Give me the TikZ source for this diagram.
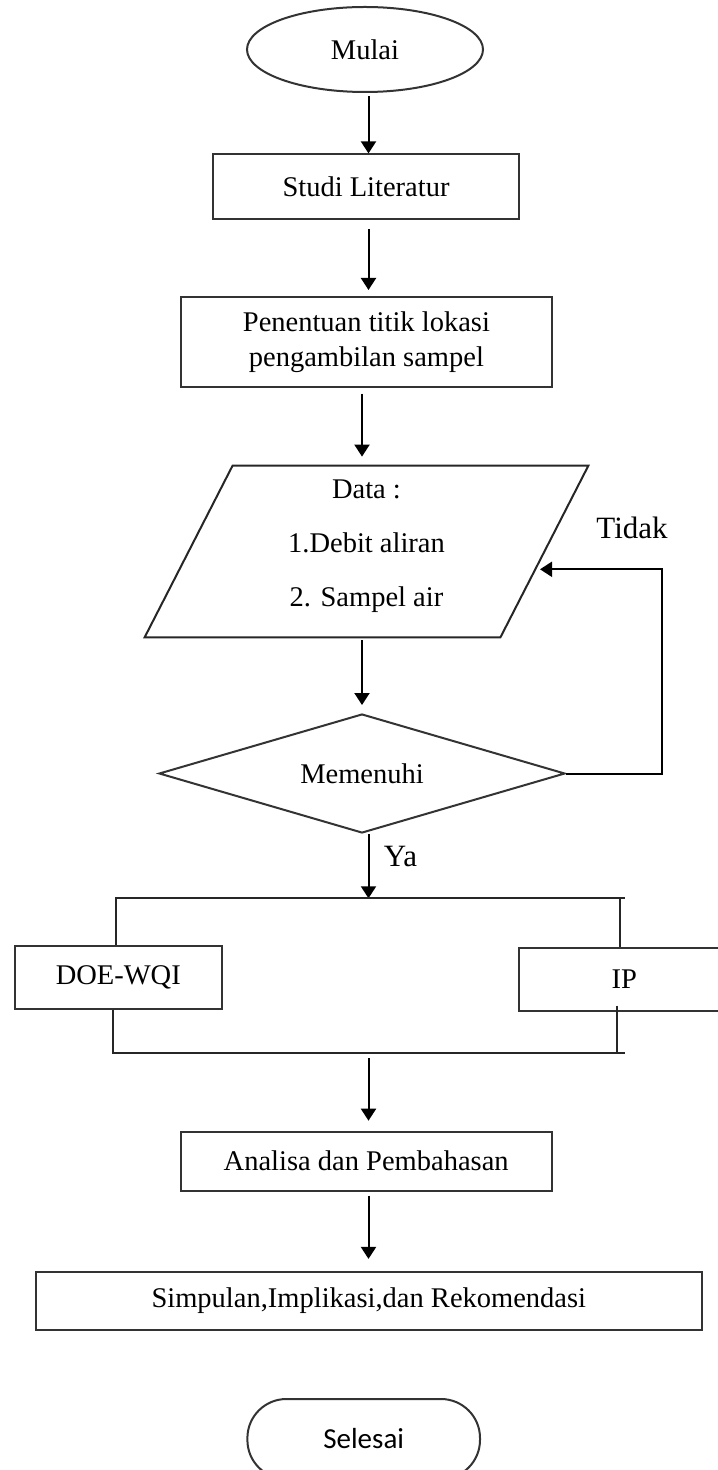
\documentclass[tikz,border=0pt]{standalone}
\usepackage{fontspec}
\setmainfont{Liberation Serif}
\newfontfamily\calibrifont{Carlito}
\usetikzlibrary{shapes.geometric,arrows.meta,calc}
\begin{document}
\begin{tikzpicture}[x=0.5pt,y=-0.5pt,
  box/.style={draw=black!80,line width=1pt,rectangle,inner sep=0pt,font=\fontsize{14.25}{17}\selectfont},
  arr/.style={draw=black,line width=1pt,-{Triangle[length=6pt,width=7.5pt]}},
  ln/.style={draw=black!85,line width=1pt},
  lbl/.style={font=\fontsize{15.5}{18}\selectfont,inner sep=0pt}]
\useasboundingbox (0,0) rectangle (717,1470);

% nodes
\node[ellipse,draw=black!80,line width=1pt,minimum width=118pt,minimum height=42.5pt,inner sep=0pt,font=\fontsize{14.25}{17}\selectfont] (mulai) at (365,49.5) {Mulai};
\node[box,minimum width=153pt,minimum height=32.3pt] (studi) at (366,186.7) {Studi Literatur};
\node[box,minimum width=185.7pt,minimum height=44.8pt,align=center,font=\fontsize{14.25}{17.5}\selectfont] (penentuan) at (366.4,341.8) {Penentuan titik lokasi\\pengambilan sampel};
\node[minimum width=221.5pt,minimum height=85.5pt,inner sep=0pt] (data) at (366.5,551.5) {};
\draw[ln] ($(data.north west)+(88,0)$) -- (data.north east) -- ($(data.south east)+(-88,0)$) -- (data.south west) -- cycle;
\node[align=center,font=\fontsize{14.25}{27}\selectfont,inner sep=0pt] (datatext) at (366.5,546) {Data :\\1.Debit aliran\\2. Sampel air};
\node[diamond,draw=black!80,line width=1pt,minimum width=203pt,minimum height=59.5pt,inner sep=0pt,aspect=3.4,font=\fontsize{14.25}{17}\selectfont] (cek) at (362,773.5) {Memenuhi};
\node[box,minimum width=103.3pt,minimum height=31.7pt] (doe) at (118.3,977.3) {DOE-WQI};
\node[box,minimum width=104.8pt,minimum height=31.2pt] (ip) at (624.2,979.5) {IP};
\node[box,minimum width=185.5pt,minimum height=29.5pt] (analisa) at (366.2,1161.2) {Analisa dan Pembahasan};
\node[box,minimum width=332.8pt,minimum height=29.2pt] (simpulan) at (368.8,1300.8) {Simpulan,Implikasi,dan Rekomendasi};
\node[draw=black!80,line width=1pt,rounded corners=19.5pt,minimum width=116.3pt,minimum height=40pt,inner sep=0pt,font=\calibrifont\fontsize{14.5}{17}\selectfont] (selesai) at (363.7,1439) {Selesai};

\node[lbl] (tidak) at (632,527.5) {Tidak};
\node[lbl] (ya) at (400.5,856) {Ya};

% helper coordinates
\coordinate (colA) at (368.5,0);
\coordinate (colB) at (362,0);
\coordinate (fbtop) at (662,569.3);
\coordinate (fbend) at (540,569.3);
\coordinate (sl) at (115,898.3);
\coordinate (sr) at (625,898.3);
\coordinate (dl) at (116,898.3);
\coordinate (ir) at (620,898.3);
\coordinate (ml) at (113.3,1053.3);
\coordinate (mr) at (625,1053.3);
\coordinate (mi) at (616.7,1053.3);

% connectors
\draw[arr] ($(mulai.south -| colA)+(0,3)$) -- (studi.north -| colA);
\draw[arr] ($(studi.south -| colA)+(0,9)$) -- ($(penentuan.north -| colA)+(0,-6)$);
\draw[arr] ($(penentuan.south -| colB)+(0,6)$) -- ($(data.north -| colB)+(0,-9)$);
\draw[arr] ($(data.south -| colB)+(0,3)$) -- ($(cek.north -| colB)+(0,-8)$);
\draw[arr] (cek.east) -- (cek.east -| fbtop) -- (fbtop) -- (fbend);
\draw[arr] (cek.south -| colA) -- (colA |- sl);
\draw[ln] (sl) -- (sr);
\draw[ln] (dl) -- (dl |- doe.north);
\draw[ln] (ir) -- (ir |- ip.north);
\draw[ln] (ml |- doe.south) -- (ml) -- (mr);
\draw[ln] ($(mi |- ip.south)+(0,-6)$) -- (mi);
\draw[arr] ($(colA |- ml)+(0,5)$) -- ($(analisa.north -| colA)+(0,-10)$);
\draw[arr] ($(analisa.south -| colA)+(0,4)$) -- ($(simpulan.north -| colA)+(0,-11.7)$);
\end{tikzpicture}
\end{document}
